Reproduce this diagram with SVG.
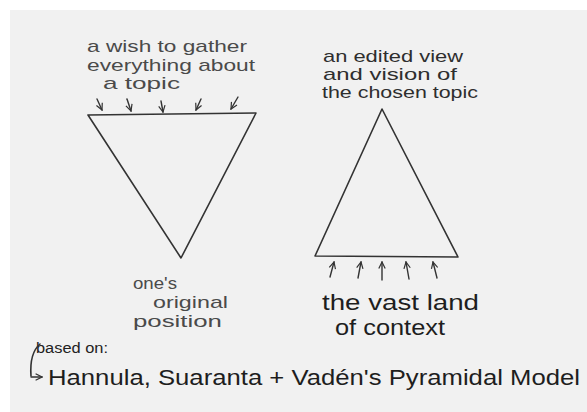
<svg xmlns="http://www.w3.org/2000/svg" width="587" height="412" viewBox="0 0 587 412">
<defs>
<marker id="v" viewBox="0 0 10 10" refX="9" refY="5" markerWidth="8" markerHeight="8" orient="auto" markerUnits="userSpaceOnUse">
<path d="M1,1 L9,5 L1,9" fill="none" stroke="#333" stroke-width="1.5"/>
</marker>
<style>
.t{font-family:"Liberation Sans","Open Sans",sans-serif;fill:#2e2e2e}
.s{font-size:17px;fill:#4a4a4a}
.m{font-size:17px}
.b{font-size:22px;fill:#1e1e1e}
.ln{fill:none;stroke:#333;stroke-width:1.6;stroke-linejoin:round;stroke-linecap:round}
.ar{fill:none;stroke:#333;stroke-width:1.4;stroke-linecap:round;marker-end:url(#v)}
</style>
</defs>
<rect width="587" height="412" fill="#ffffff"/>
<rect x="10" y="10" width="577" height="402" fill="#f1f1f1"/>
<g id="funnel">
<path class="ln" d="M88,115 L256,113 L181,258 Z"/>
<text class="t s" x="87" y="52" textLength="160" lengthAdjust="spacingAndGlyphs">a wish to gather</text>
<text class="t s" x="87" y="71" textLength="168" lengthAdjust="spacingAndGlyphs">everything about</text>
<text class="t s" x="103" y="89" textLength="77" lengthAdjust="spacingAndGlyphs">a topic</text>
<text class="t s" x="133" y="289" textLength="44" lengthAdjust="spacingAndGlyphs">one's</text>
<text class="t s" x="153" y="308" textLength="75" lengthAdjust="spacingAndGlyphs">original</text>
<text class="t s" x="133" y="327" textLength="89" lengthAdjust="spacingAndGlyphs">position</text>
</g>
<g id="pyramid">
<path class="ln" d="M382,109 L458,257 L315,256 Z"/>
<text class="t m" x="323" y="62" textLength="140" lengthAdjust="spacingAndGlyphs">an edited view</text>
<text class="t m" x="323" y="80" textLength="134" lengthAdjust="spacingAndGlyphs">and vision of</text>
<text class="t m" x="322" y="98" textLength="156" lengthAdjust="spacingAndGlyphs">the chosen topic</text>
<text class="t b" x="322" y="310" textLength="157" lengthAdjust="spacingAndGlyphs">the vast land</text>
<text class="t b" x="335" y="335" textLength="110" lengthAdjust="spacingAndGlyphs">of context</text>
</g>
<g id="source">
<text class="t" x="36" y="353" font-size="14" textLength="72" lengthAdjust="spacingAndGlyphs" style="fill:#222">based on:</text>
<text class="t b" x="48" y="385" textLength="532" lengthAdjust="spacingAndGlyphs">Hannula, Suaranta + Vadén's Pyramidal Model</text>
</g>
<g id="connectors">
<path class="ar" d="M97,99 L102,110"/>
<path class="ar" d="M127,99 L131,111"/>
<path class="ar" d="M161,101 L163,112"/>
<path class="ar" d="M201,99 L196,110"/>
<path class="ar" d="M238,97 L231,109"/>
<path class="ar" d="M330,277 L334,262"/>
<path class="ar" d="M358,278 L361,262"/>
<path class="ar" d="M382,280 L382,262"/>
<path class="ar" d="M409,279 L406,262"/>
<path class="ar" d="M437,278 L433,262"/>
<path class="ln" d="M40,344 C33,350 30,362 31,376"/>
<path class="ar" d="M31,377 L42,377"/>
</g>
</svg>
